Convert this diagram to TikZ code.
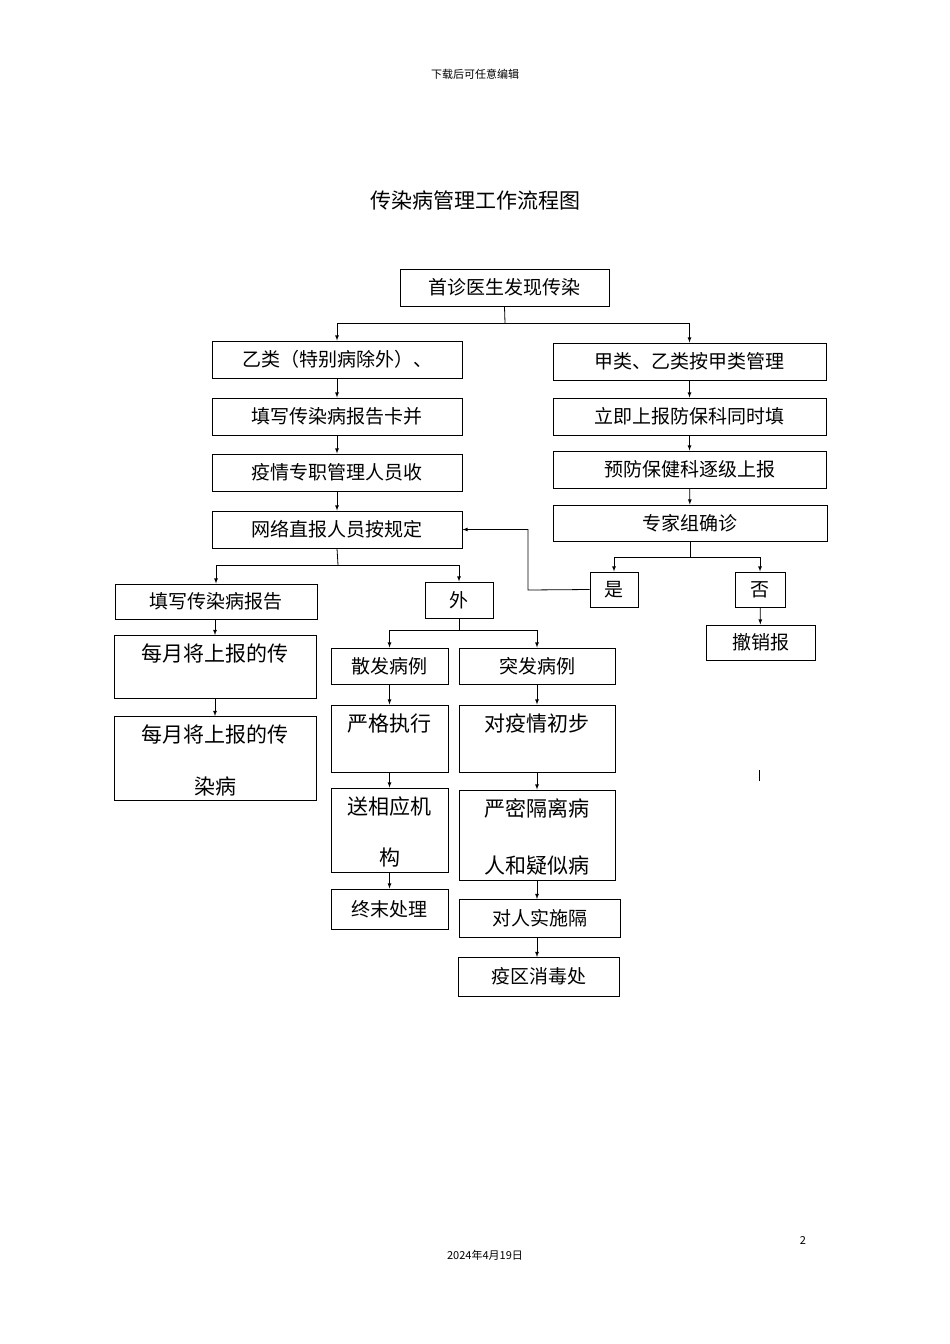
\documentclass[tikz,border=0pt]{standalone}
\usepackage{fontspec}
\setmainfont{Noto Sans CJK SC}
\newfontfamily\serifcjk{Noto Sans CJK SC}
\begin{document}
\begin{tikzpicture}[x=1pt,y=-1pt,
  box/.style={draw,line width=1pt,inner sep=0pt,font=\fontsize{19}{22}\selectfont},
  arr/.style={->,>=latex,line width=0.8pt},
  ln/.style={line width=0.8pt}]
\useasboundingbox (0,0) rectangle (950,1344);
\newcommand\bx[6]{\node[box,minimum width={(#4-#2)*1pt},minimum height={(#5-#3)*1pt}] (#1) at ({(#2+#4)/2},{(#3+#5)/2}) {#6};}
\newcommand\tb[7]{\node[box,minimum width={(#4-#2)*1pt},minimum height={(#5-#3)*1pt},
  label={[anchor=north,yshift=-6pt,font=\fontsize{21}{24}\selectfont]north:#6},
  label={[anchor=south,yshift=2pt,font=\fontsize{21}{24}\selectfont]south:#7}] (#1) at ({(#2+#4)/2},{(#3+#5)/2}) {};}
\node[font=\fontsize{11}{13}\selectfont] (hdr) at (475,74) {下载后可任意编辑};
\node[font=\fontsize{21}{24}\selectfont] (ttl) at (475,200) {传染病管理工作流程图};
\node[font=\fontsize{11}{13}\selectfont] (pg) at (803,1240) {2};
\node[font=\fontsize{11}{13}\selectfont] (dt) at (485,1255) {2024年4月19日};
\bx{top}{400}{269}{609}{306}{首诊医生发现传染}
\bx{L1}{212}{341}{462}{378}{乙类（特别病除外）、}
\bx{L2}{212}{398}{462}{435}{填写传染病报告卡并}
\bx{L3}{212}{454}{462}{491}{疫情专职管理人员收}
\bx{L4}{212}{511}{462}{548}{网络直报人员按规定}
\bx{R1}{553}{343}{826}{380}{甲类、乙类按甲类管理}
\bx{R2}{553}{398}{826}{435}{立即上报防保科同时填}
\bx{R3}{553}{451}{826}{488}{预防保健科逐级上报}
\bx{R4}{553}{505}{827}{541}{专家组确诊}
\bx{yes}{590}{572}{638}{607}{是}
\bx{no}{735}{572}{785}{607}{否}
\bx{cx}{706}{625}{815}{660}{撤销报}
\bx{LL1}{115}{584}{317}{619}{填写传染病报告}
\tb{LL2}{114}{635}{316}{698}{每月将上报的传}{}
\tb{LL3}{114}{716}{316}{800}{每月将上报的传}{\raisebox{0pt}[0pt][0pt]{染病}}
\bx{wai}{425}{582}{493}{618}{外}
\bx{sf}{331}{648}{448}{684}{散发病例}
\bx{tf}{459}{648}{615}{684}{突发病例}
\tb{yg}{331}{705}{448}{772}{严格执行}{}
\tb{dy}{459}{705}{615}{772}{对疫情初步}{}
\tb{sx}{331}{788}{448}{872}{送相应机}{构}
\tb{ym}{459}{790}{615}{880}{严密隔离病}{人和疑似病}
\bx{zm}{331}{889}{448}{929}{终末处理}
\bx{dr}{459}{899}{620}{937}{对人实施隔}
\bx{yq}{458}{957}{619}{996}{疫区消毒处}
\draw[ln] (759,770) -- (759,781);
% connectors
\draw[ln] (top.south) -- (505,323) coordinate (t1);
\draw[arr] (t1) -| (L1.north);
\draw[arr] (t1) -| (R1.north);
\draw[arr] (L1) -- (L2); \draw[arr] (L2) -- (L3); \draw[arr] (L3) -- (L4);
\draw[arr] (R1) -- (R2); \draw[arr] (R2) -- (R3); \draw[arr] (R3) -- (R4);
\draw[ln] (690,541) -- (690,557) coordinate (r1);
\draw[arr] (r1) -| (yes.north);
\draw[arr] (r1) -| (no.north);
\draw[arr] (yes.west) -- (528,590) |- (L4.east);
\draw[arr] (no) -- (cx);
\draw[ln] (L4.south) -- (338,565) coordinate (l1);
\draw[arr] (l1) -| (LL1.north);
\draw[arr] (l1) -| (wai.north);
\draw[arr] (215,619) -- (215,635);
\draw[arr] (215,698) -- (215,716);
\draw[ln] (wai.south) -- (459,630) coordinate (w1);
\draw[arr] (w1) -| (sf.north);
\draw[arr] (w1) -| (tf.north);
\draw[arr] (sf) -- (yg); \draw[arr] (yg) -- (sx); \draw[arr] (sx) -- (zm);
\draw[arr] (tf) -- (dy); \draw[arr] (dy) -- (ym);
\draw[arr] (537,880) -- (537,899);
\draw[arr] (537,937) -- (537,957);
\end{tikzpicture}
\end{document}
